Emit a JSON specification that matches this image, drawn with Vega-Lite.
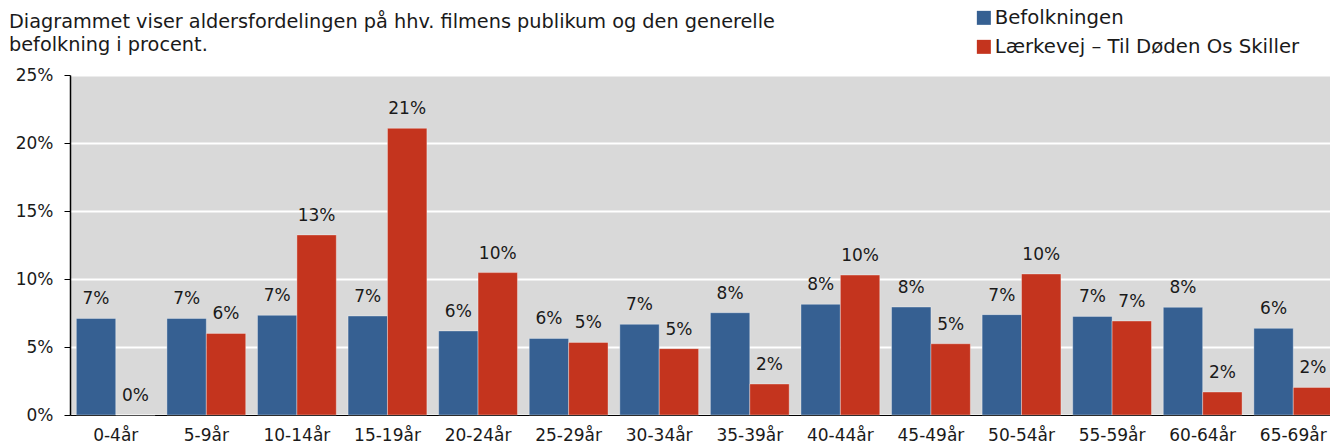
{
  "$schema": "https://vega.github.io/schema/vega-lite/v6.json",
  "autosize": {"type": "none"},
  "padding": {"left": 70, "top": 75, "right": 0, "bottom": 29},
  "width": 1269,
  "height": 340,
  "background": "white",
  "title": {
    "text": ["Diagrammet viser aldersfordelingen på hhv. filmens publikum og den generelle", "befolkning i procent."],
    "anchor": "start",
    "frame": "group",
    "orient": "top",
    "dx": -61,
    "offset": -47,
    "font": "DejaVu Sans",
    "fontSize": 19.3,
    "fontWeight": "normal",
    "color": "#1a1a1a",
    "lineHeight": 23
  },
  "config": {
    "view": {"fill": "#d9d9d9", "stroke": null},
    "font": "DejaVu Sans"
  },
  "data": {
    "values": [
      {"age": "0-4år", "series": "Befolkningen", "value": 0.0710},
      {"age": "0-4år", "series": "Lærkevej – Til Døden Os Skiller", "value": 0.0},
      {"age": "5-9år", "series": "Befolkningen", "value": 0.0710},
      {"age": "5-9år", "series": "Lærkevej – Til Døden Os Skiller", "value": 0.0600},
      {"age": "10-14år", "series": "Befolkningen", "value": 0.0733},
      {"age": "10-14år", "series": "Lærkevej – Til Døden Os Skiller", "value": 0.1324},
      {"age": "15-19år", "series": "Befolkningen", "value": 0.0728},
      {"age": "15-19år", "series": "Lærkevej – Til Døden Os Skiller", "value": 0.2108},
      {"age": "20-24år", "series": "Befolkningen", "value": 0.0618},
      {"age": "20-24år", "series": "Lærkevej – Til Døden Os Skiller", "value": 0.1047},
      {"age": "25-29år", "series": "Befolkningen", "value": 0.0563},
      {"age": "25-29år", "series": "Lærkevej – Til Døden Os Skiller", "value": 0.0534},
      {"age": "30-34år", "series": "Befolkningen", "value": 0.0667},
      {"age": "30-34år", "series": "Lærkevej – Til Døden Os Skiller", "value": 0.0488},
      {"age": "35-39år", "series": "Befolkningen", "value": 0.0752},
      {"age": "35-39år", "series": "Lærkevej – Til Døden Os Skiller", "value": 0.0228},
      {"age": "40-44år", "series": "Befolkningen", "value": 0.0814},
      {"age": "40-44år", "series": "Lærkevej – Til Døden Os Skiller", "value": 0.1029},
      {"age": "45-49år", "series": "Befolkningen", "value": 0.0794},
      {"age": "45-49år", "series": "Lærkevej – Til Døden Os Skiller", "value": 0.0524},
      {"age": "50-54år", "series": "Befolkningen", "value": 0.0738},
      {"age": "50-54år", "series": "Lærkevej – Til Døden Os Skiller", "value": 0.1037},
      {"age": "55-59år", "series": "Befolkningen", "value": 0.0725},
      {"age": "55-59år", "series": "Lærkevej – Til Døden Os Skiller", "value": 0.0691},
      {"age": "60-64år", "series": "Befolkningen", "value": 0.0792},
      {"age": "60-64år", "series": "Lærkevej – Til Døden Os Skiller", "value": 0.0169},
      {"age": "65-69år", "series": "Befolkningen", "value": 0.0637},
      {"age": "65-69år", "series": "Lærkevej – Til Døden Os Skiller", "value": 0.0203}
    ]
  },
  "encoding": {
    "x": {
      "field": "age",
      "type": "nominal",
      "sort": null,
      "scale": {"paddingInner": 0.13, "paddingOuter": 0.07},
      "axis": {
        "title": null,
        "labelAngle": 0,
        "labelFontSize": 17,
        "labelColor": "#1a1a1a",
        "labelPadding": 12,
        "ticks": false,
        "domainColor": "#000000",
        "domainWidth": 1,
        "grid": false
      }
    },
    "xOffset": {
      "field": "series",
      "type": "nominal",
      "sort": ["Befolkningen", "Lærkevej – Til Døden Os Skiller"],
      "scale": {"paddingInner": 0, "paddingOuter": 0}
    },
    "y": {
      "field": "value",
      "type": "quantitative",
      "scale": {"domain": [0, 0.25], "nice": false},
      "axis": {
        "title": null,
        "format": ".0%",
        "values": [0, 0.05, 0.1, 0.15, 0.2, 0.25],
        "labelFontSize": 17,
        "labelColor": "#1a1a1a",
        "labelPadding": 11,
        "tickSize": 6,
        "tickColor": "#000000",
        "domainColor": "#000000",
        "domainWidth": 1.5,
        "gridColor": "#ffffff",
        "gridWidth": 2
      }
    }
  },
  "layer": [
    {
      "mark": {"type": "bar", "stroke": "#ffffff", "strokeOpacity": 0.35, "strokeWidth": 1},
      "encoding": {
        "color": {
          "field": "series",
          "type": "nominal",
          "sort": ["Befolkningen", "Lærkevej – Til Døden Os Skiller"],
          "scale": {"domain": ["Befolkningen", "Lærkevej – Til Døden Os Skiller"], "range": ["#366092", "#c4341e"]},
          "legend": {
            "title": null,
            "orient": "none",
            "legendX": 904,
            "legendY": -67,
            "symbolType": "square",
            "symbolSize": 196,
            "symbolStrokeWidth": 0,
            "labelFontSize": 19.7,
            "labelColor": "#1a1a1a",
            "labelOffset": 1,
            "rowPadding": 8,
            "labelLimit": 400
          }
        }
      }
    },
    {
      "mark": {"type": "text", "baseline": "bottom", "dy": -10, "fontSize": 17, "color": "#1a1a1a"},
      "encoding": {
        "text": {"field": "value", "type": "quantitative", "format": ".0%"}
      }
    }
  ]
}
